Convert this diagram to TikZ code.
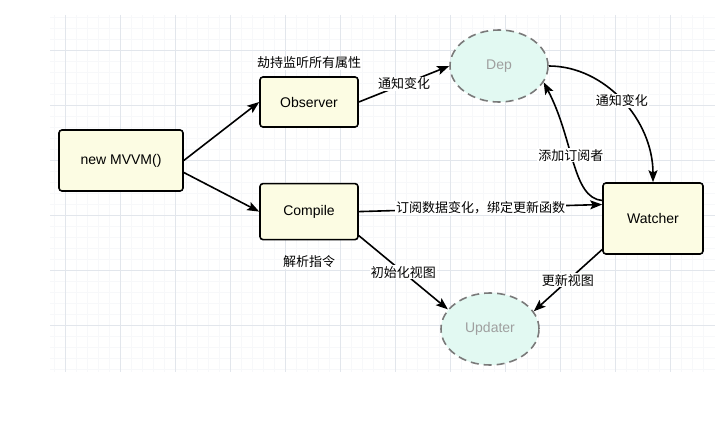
\documentclass[tikz,border=0pt]{standalone}
\usepackage{fontspec}
\setmainfont{Liberation Sans}
\newfontfamily\cjk{Noto Sans CJK SC}
\usetikzlibrary{positioning,shapes.geometric,arrows.meta}
\definecolor{boxfill}{HTML}{FCFCE3}
\definecolor{depfill}{HTML}{E2F9F2}
\definecolor{dashgray}{HTML}{7A7A7A}
\definecolor{gridmajor}{HTML}{E2E6EC}
\definecolor{gridminor}{HTML}{F7F8FA}

\begin{document}
\begin{tikzpicture}[x=1pt, y=-1pt,
    box/.style={rectangle, rounded corners=3pt, draw=black, fill=boxfill,
                line width=1.6pt, font=\fontsize{14}{17}\selectfont},
    bubble/.style={ellipse, draw=dashgray, dash pattern=on 8pt off 5pt,
                   line width=1.6pt, fill=depfill, text=gray!75,
                   minimum width=98pt, minimum height=72pt,
                   font=\fontsize{14}{17}\selectfont},
    lbl/.style={font=\cjk\fontsize{13}{15}\selectfont, fill=white, inner sep=1pt},
    flow/.style={-{Stealth[length=12pt,width=9pt,inset=2.5pt]}, line width=1.6pt}
]
\useasboundingbox (0,0) rectangle (724,425);

% Background grid
\foreach \gx in {54,65,...,713} \draw[gridminor] (\gx,15) -- (\gx,372);
\foreach \gy in {17,28,...,369} \draw[gridminor] (50,\gy) -- (715,\gy);
\foreach \gx in {65,120,...,670} \draw[gridmajor] (\gx,15) -- (\gx,372);
\foreach \gy in {50,105,...,325} \draw[gridmajor] (50,\gy) -- (715,\gy);

% Left: entry and its two parts
\node[box, minimum width=124pt, minimum height=61pt] (mvvm) at (121,160.5) {new MVVM()};
\node[box, minimum width=98pt, minimum height=50pt] (obs) at (309,102) {Observer};
\node[box, minimum width=98pt, minimum height=56pt, below=55pt of obs] (cmp) {Compile};
\node[lbl, above=6pt of obs] (obslbl) {劫持监听所有属性};
\node[lbl, below=14pt of cmp] (cmplbl) {解析指令};

% Right: Dep, Watcher, Updater
\node[bubble] (dep) at (499,66) {Dep};
\node[box, minimum width=100pt, minimum height=71pt] (wat) at (653,218.5) {Watcher};
\node[bubble] (upd) at (490,329) {Updater};

% Connectors
\draw[flow] (mvvm.east) -- (obs.west);
\draw[flow] ([yshift=-12pt]mvvm.east) -- (cmp.west);
\draw[flow] (obs.east) -- node[lbl] {通知变化} (dep.west);
\draw[flow] (dep.east) .. controls (605,66) and (653,120) .. node[lbl] {通知变化} (wat.north);
\draw[flow] ([yshift=18pt]wat.west) .. controls (572,198) and (574,140) .. node[lbl, pos=0.55] {添加订阅者} (dep.-20);
\draw[flow] (cmp.east) -- node[lbl] {订阅数据变化，绑定更新函数} ([yshift=14pt]wat.west);
\draw[flow] ([yshift=-24pt]cmp.east) -- node[lbl] {初始化视图} (upd.155);
\draw[flow] ([yshift=-31pt]wat.west) -- node[lbl] {更新视图} (upd.22);

\end{tikzpicture}
\end{document}
